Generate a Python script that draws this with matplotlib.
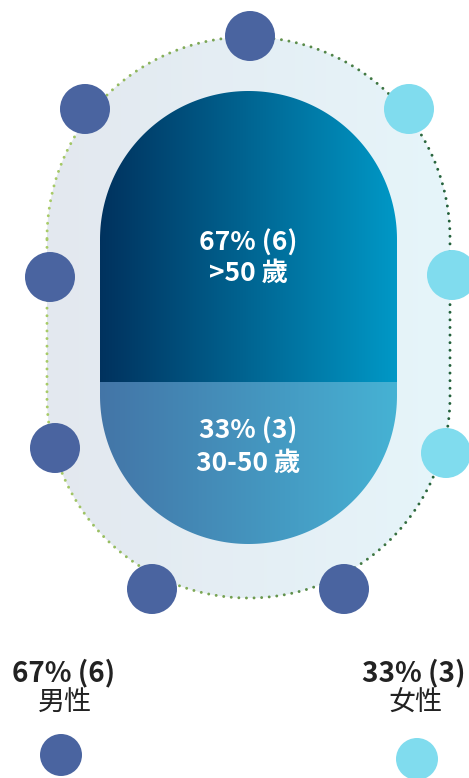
import numpy as np
import matplotlib.pyplot as plt
from matplotlib.patches import Polygon, Circle
from matplotlib.colors import LinearSegmentedColormap

plt.rcParams['font.family'] = ['Noto Sans CJK TC', 'DejaVu Sans']

# data
age_labels = ['>50 歲', '30-50 歲']
age_counts = [6, 3]
gender_labels = ['男性', '女性']
gender_counts = [6, 3]

dark_c = '#4a64a0'
light_c = '#80dcee'

W, H = 469, 778
fig = plt.figure(figsize=(W / 100, H / 100), dpi=100)
ax = fig.add_axes([0, 0, 1, 1])
ax.set_xlim(0, W)
ax.set_ylim(H, 0)
ax.axis('off')


def stadium(x0, x1, y0, y1, n=200):
    # vertical capsule, full round top and bottom
    rr = (x1 - x0) / 2
    c = (x0 + x1) / 2
    a = np.linspace(np.pi, 0, n)
    top = np.c_[c + rr * np.cos(a), y0 + rr - rr * np.sin(a)]
    a = np.linspace(0, np.pi, n)
    bot = np.c_[c + rr * np.cos(a), y1 - rr + rr * np.sin(a)]
    return np.vstack([top, bot])


def hgrad(c0, c1, x0, x1, y0, y1, clip, z):
    cmap = LinearSegmentedColormap.from_list('g', [c0, c1])
    g = np.linspace(0, 1, 256).reshape(1, -1)
    im = ax.imshow(g, cmap=cmap, extent=(x0, x1, y1, y0), aspect='auto',
                   interpolation='bilinear', zorder=z)
    im.set_clip_path(clip)


# outer stadium
ox0, ox1, oy0, oy1 = 47, 450, 37, 598
R = (ox1 - ox0) / 2
outer = Polygon(stadium(ox0, ox1, oy0, oy1), closed=True, fc='none', ec='none')
ax.add_patch(outer)
hgrad('#e3e8ef', '#e6f5fa', ox0, ox1, oy0, oy1, outer, 1)

# dotted outline
cx = (ox0 + ox1) / 2
top_c, bot_c = oy0 + R, oy1 - R
side = bot_c - top_c
per = 2 * np.pi * R + 2 * side
s = np.arange(0, per, 7.6)
px, py = [], []
for v in s:
    if v < np.pi * R:
        a = np.pi - v / R
        px.append(cx + R * np.cos(a)); py.append(top_c - R * np.sin(a))
    elif v < np.pi * R + side:
        px.append(ox1); py.append(top_c + v - np.pi * R)
    elif v < 2 * np.pi * R + side:
        a = (v - np.pi * R - side) / R
        px.append(cx + R * np.cos(a)); py.append(bot_c + R * np.sin(a))
    else:
        px.append(ox0); py.append(bot_c - (v - 2 * np.pi * R - side))
px = np.array(px); py = np.array(py)
dcm = LinearSegmentedColormap.from_list('d', ['#a8cb68', '#6f9c50', '#22603a'])
ax.scatter(px, py, s=4.2, c=(px - ox0) / (ox1 - ox0), cmap=dcm, lw=0, zorder=2)

# inner capsule split by area
ix0, ix1, iy0, iy1 = 100, 397, 91, 544
r = (ix1 - ix0) / 2
inner = Polygon(stadium(ix0, ix1, iy0, iy1), closed=True, fc='none', ec='none')
ax.add_patch(inner)
frac = age_counts[0] / sum(age_counts)
total_area = np.pi * r ** 2 + (ix1 - ix0) * (iy1 - iy0 - 2 * r)
rest = frac * total_area - np.pi * r ** 2 / 2
split = iy0 + r + rest / (ix1 - ix0)
hgrad('#00325e', '#0098c6', ix0, ix1, iy0, split, inner, 3)
hgrad('#4375a7', '#46b2d4', ix0, ix1, split, iy1, inner, 3)

tot = sum(age_counts)
text_y = [(split - 139, split - 109), (split + 49, split + 81)]
for lab, cnt, (y1, y2) in zip(age_labels, age_counts, text_y):
    ax.text(cx, y1, f'{round(100 * cnt / tot)}% ({cnt})', color='white',
            fontsize=19, fontweight='bold', ha='center', va='center', zorder=5)
    ax.text(cx, y2, lab, color='white',
            fontsize=19, fontweight='bold', ha='center', va='center', zorder=5)

# person circles around the outline
slots = [(250, 36), (85, 109), (409, 109), (50, 277), (452, 275),
         (55, 448), (446, 453), (152, 589), (344, 589)]
slot_gender = [0, 0, 1, 0, 1, 0, 1, 0, 0]
for (x, y), gi in zip(slots, slot_gender):
    ax.add_patch(Circle((x, y), 25, fc=[dark_c, light_c][gi], ec='none', zorder=6))

# legend
gt = sum(gender_counts)
leg_x = [64, 414]
dot_x = [61, 417]
dot_y = [755, 759]
leg_col = [dark_c, light_c]
for lab, cnt, x, col, dx, dy in zip(gender_labels, gender_counts, leg_x, leg_col, dot_x, dot_y):
    ax.text(x, 673, f'{round(100 * cnt / gt)}% ({cnt})', color='#222222',
            fontsize=20, fontweight='bold', ha='center', va='center')
    ax.text(x + 1, 703, lab, color='#222222', fontsize=19.5, ha='center', va='center')
    ax.add_patch(Circle((dx, dy), 21, fc=col, ec='none'))

fig.savefig('out.png', dpi=100)
